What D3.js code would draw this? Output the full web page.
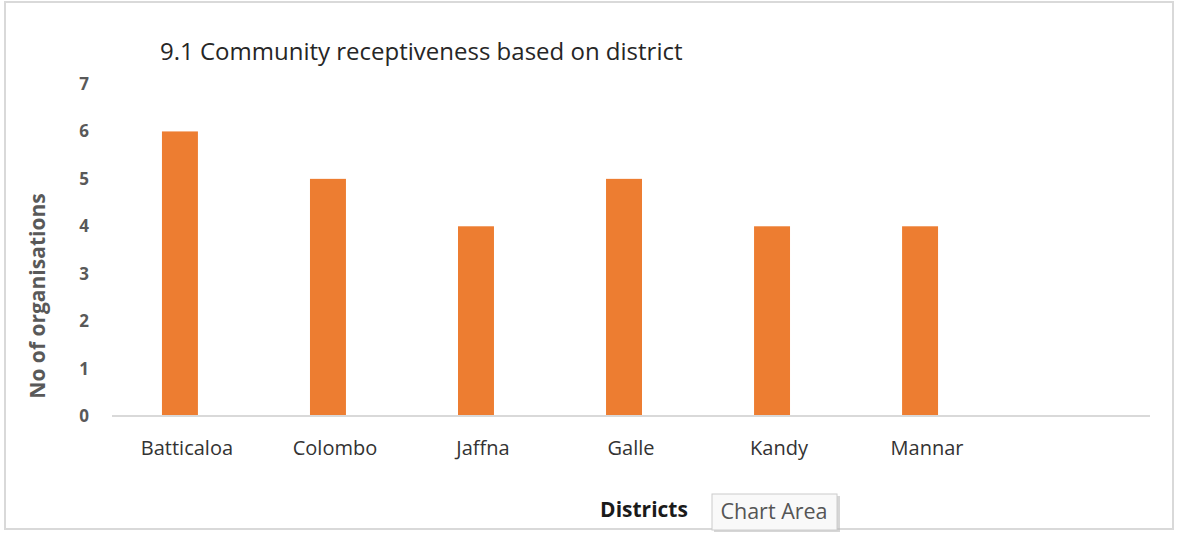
<!DOCTYPE html>
<html>
<head>
<meta charset="utf-8">
<script src="https://cdn.jsdelivr.net/npm/d3@7"></script>
<style>
    body { margin: 0; background: #fff; }
    svg { display: block; font-family: "Open Sans", "Noto Sans", sans-serif; }
</style>
</head>
<body>
<div id="chart"></div>
<script>
// Chart data
const districts = ["Batticaloa", "Colombo", "Jaffna", "Galle", "Kandy", "Mannar"];
const orgCounts = [6, 5, 4, 5, 4, 4];
const yTicks = [0, 1, 2, 3, 4, 5, 6, 7];

const width = 1178, height = 533;

const svg = d3.select('#chart')
    .append('svg')
    .attr('width', width)
    .attr('height', height);

// Chart area border
svg.append('rect')
    .attr('x', 5).attr('y', 2)
    .attr('width', 1168).attr('height', 527)
    .attr('fill', '#fff')
    .attr('stroke', '#d9d9d9')
    .attr('stroke-width', 2);

// Scales
const x = d3.scaleBand()
    .domain(districts)
    .range([106, 106 + 148 * districts.length])
    .paddingInner(0.757)
    .paddingOuter(0.378);

const y = d3.scaleLinear()
    .domain([0, 7])
    .range([416, 84]);

// Title
svg.append('text')
    .attr('x', 160)
    .attr('y', 60)
    .attr('font-size', 24)
    .attr('fill', '#262626')
    .text('9.1 Community receptiveness based on district');

// Y axis tick labels
svg.append('g')
    .attr('transform', 'translate(89,0)')
    .call(d3.axisLeft(y).tickValues(yTicks).tickFormat(d3.format('d')).tickSize(0).tickPadding(0))
    .call(g => g.select('.domain').remove())
    .selectAll('text')
    .attr('font-size', 17)
    .attr('font-weight', 'bold')
    .attr('fill', '#595959')
    .attr('font-family', '"Open Sans", sans-serif');

// Y axis title
svg.append('text')
    .attr('transform', 'translate(45,296) rotate(-90)')
    .attr('text-anchor', 'middle')
    .attr('font-size', 21)
    .attr('font-weight', 'bold')
    .attr('fill', '#595959')
    .text('No of organisations');

// Bars
svg.selectAll('.bar')
    .data(districts)
    .enter()
    .append('rect')
    .attr('class', 'bar')
    .attr('x', d => x(d))
    .attr('width', x.bandwidth())
    .attr('y', (d, i) => y(orgCounts[i]))
    .attr('height', (d, i) => y(0) - y(orgCounts[i]))
    .attr('fill', '#ed7d31');

// Baseline
svg.append('line')
    .attr('x1', 112).attr('x2', 1150)
    .attr('y1', y(0)).attr('y2', y(0))
    .attr('stroke', '#d9d9d9')
    .attr('stroke-width', 2);

// X axis category labels
svg.append('g')
    .attr('transform', `translate(7,${y(0)})`)
    .call(d3.axisBottom(x).tickSize(0).tickPadding(25))
    .call(g => g.select('.domain').remove())
    .selectAll('text')
    .attr('font-size', 20)
    .attr('fill', '#333')
    .attr('font-family', '"Open Sans", sans-serif');

// X axis title
svg.append('text')
    .attr('x', 644)
    .attr('y', 517)
    .attr('text-anchor', 'middle')
    .attr('font-size', 21)
    .attr('font-weight', 'bold')
    .attr('fill', '#1a1a1a')
    .text('Districts');

// "Chart Area" tooltip
const tip = svg.append('g').attr('transform', 'translate(712,494)');
tip.append('rect')
    .attr('x', 2).attr('y', 2)
    .attr('width', 126).attr('height', 36)
    .attr('fill', '#bbb')
    .attr('opacity', 0.6);
tip.append('rect')
    .attr('width', 125).attr('height', 36)
    .attr('fill', '#f9f9f9')
    .attr('stroke', '#ccc');
tip.append('text')
    .attr('x', 62).attr('y', 25)
    .attr('text-anchor', 'middle')
    .attr('font-size', 21.5)
    .attr('fill', '#555')
    .text('Chart Area');
</script>
</body>
</html>
